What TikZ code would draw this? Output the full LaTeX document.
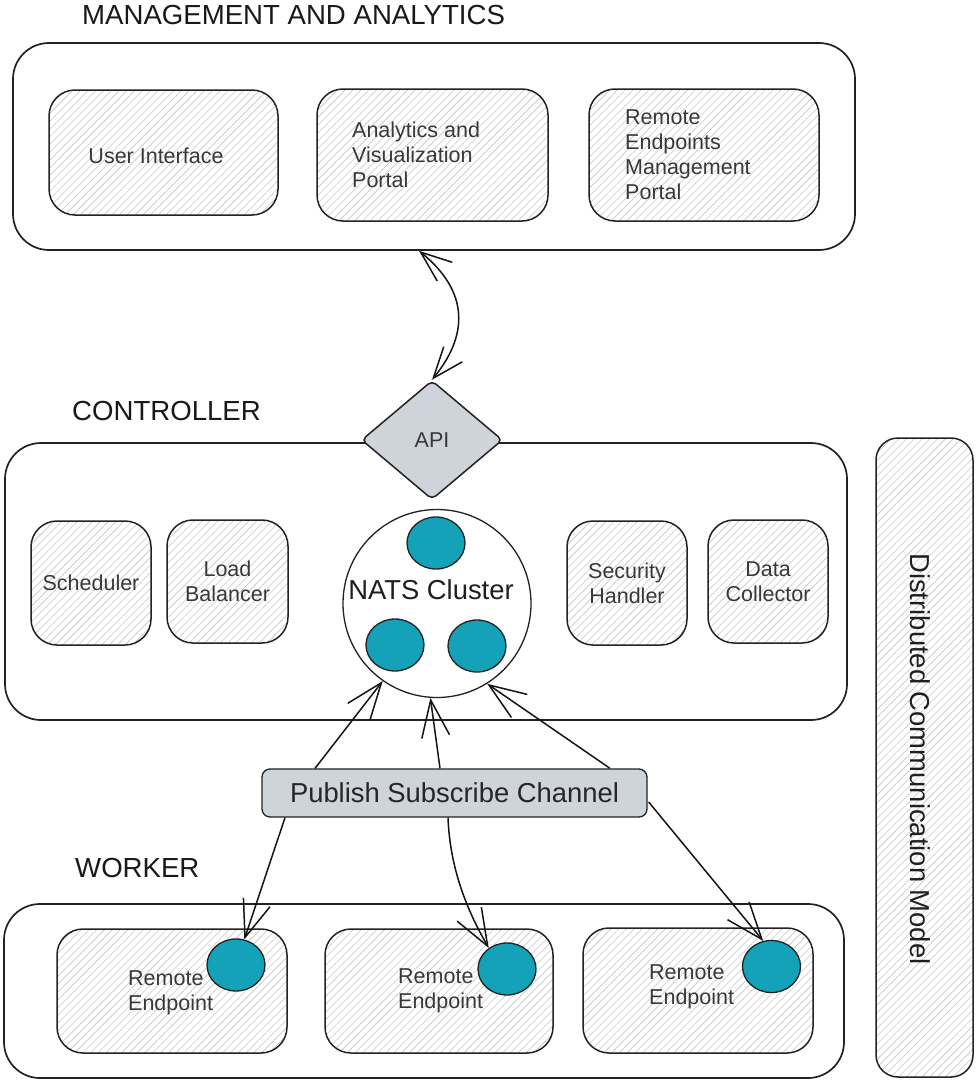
\documentclass[tikz,border=0pt]{standalone}
\usepackage{fontspec}
\setmainfont{Liberation Sans}
\usetikzlibrary{arrows.meta,shapes.geometric,patterns.meta,calc}
\definecolor{tealdot}{HTML}{14A2B8}
\definecolor{chan}{HTML}{CFD3DA}
\definecolor{edge}{HTML}{222222}
\definecolor{txt}{HTML}{383838}
\definecolor{hatch}{HTML}{C4C4C4}
\begin{document}
\begin{tikzpicture}[x=1pt,y=-1pt,
  sz/.style 2 args={minimum width=#1pt,minimum height=#2pt},
  outerbox/.style={rectangle,draw=edge,line width=1.7pt,rounded corners=36pt,inner sep=0pt},
  hatchbox/.style={rectangle,draw=edge,line width=1.5pt,rounded corners=26pt,inner sep=0pt,
     pattern={Lines[angle=45,distance=5.5pt,line width=0.6pt]},pattern color=hatch},
  hdr/.style={anchor=base west,inner sep=0pt,text=black!90,font=\fontsize{27.6}{30}\selectfont},
  lbl/.style={inner sep=0pt,text=txt,align=center,font=\fontsize{21.5}{25}\selectfont},
  lbltl/.style={anchor=north west,inner sep=0pt,text=txt,align=left,font=\fontsize{21.5}{25}\selectfont},
  bigtxt/.style={inner sep=0pt,text=black!88,font=\fontsize{27.4}{30}\selectfont},
  dot/.style={ellipse,draw=edge,line width=1.3pt,fill=tealdot,minimum width=58pt,minimum height=52pt,inner sep=0pt},
  conn/.style={draw=black!92,line width=1.5pt,-{Straight Barb[length=37pt,width=28pt]}},
  dconn/.style={draw=black!92,line width=1.5pt,{Straight Barb[length=31pt,width=24pt]}-{Straight Barb[length=31pt,width=24pt]}}
]
\useasboundingbox (0,0) rectangle (975,1081);

% ---------- Management and analytics ----------
\node[hdr] (mgmth) at (82,25) {MANAGEMENT AND ANALYTICS};
\node[outerbox,sz={842}{207}] (mgmt) at (434,146.5) {};
\node[hatchbox,sz={229}{125}] (ui) at (163.5,152.5) {};
\node[lbl] (uit) at (156,156) {User Interface};
\node[hatchbox,sz={231}{132}] (avp) at (432.5,155) {};
\node[lbltl] (avpt) at (352,122) {Analytics and\\Visualization\\Portal};
\node[hatchbox,sz={230}{132}] (rem) at (704,155) {};
\node[lbltl] (remt) at (625,110) {Remote\\Endpoints\\Management\\Portal};

% ---------- Controller ----------
\node[hdr] (ctrlh) at (72,420) {CONTROLLER};
\node[outerbox,sz={842}{277}] (ctrl) at (426,581.5) {};
\node[diamond,draw=edge,line width=1.5pt,fill=chan,rounded corners=5pt,minimum width=141pt,minimum height=119pt,inner sep=0pt,text=txt,font=\fontsize{21.5}{25}\selectfont] (api) at (432,440) {API};
\node[hatchbox,sz={120}{124},lbl] (sch) at (91,583) {Scheduler};
\node[hatchbox,sz={121}{123},lbl] (lb) at (227.5,581.5) {Load\\Balancer};
\node[hatchbox,sz={120}{124},lbl] (sec) at (627,583) {Security\\Handler};
\node[hatchbox,sz={120}{123},lbl] (dc) at (768,581.5) {Data\\Collector};
\node[circle,draw=edge,line width=1.3pt,fill=white,minimum size=188pt,inner sep=0pt] (nats) at (437,603.5) {};
\node[bigtxt] (natst) at (431,590) {NATS Cluster};
\node[dot] (n1) at (436,543) {};
\node[dot] (n2) at (395,645) {};
\node[dot] (n3) at (477,646) {};

% ---------- Channel ----------
\node[rectangle,draw=edge,line width=1.3pt,fill=chan,rounded corners=8pt,sz={385}{48},inner sep=0pt,text=black!85,font=\fontsize{27.4}{30}\selectfont] (pub) at (454.5,793) {Publish Subscribe Channel};

% ---------- Worker ----------
\node[hdr] (workh) at (75,877) {WORKER};
\node[outerbox,sz={840}{174}] (work) at (424,991) {};
\node[hatchbox,sz={230}{124}] (re1) at (172,991) {};
\node[lbltl] (re1t) at (128,970) {Remote\\Endpoint};
\node[dot] (d1) at (236,965) {};
\node[hatchbox,sz={228}{124}] (re2) at (439,991) {};
\node[lbltl] (re2t) at (398,968) {Remote\\Endpoint};
\node[dot] (d2) at (507,969) {};
\node[hatchbox,sz={230}{125}] (re3) at (698,990.5) {};
\node[lbltl] (re3t) at (649,964) {Remote\\Endpoint};
\node[dot] (d3) at (771.5,966.5) {};

% ---------- Distributed communication model ----------
\node[hatchbox,rounded corners=22pt,sz={97}{639}] (dcm) at (924.5,757.5) {};
\node[bigtxt,rotate=-90] (dcmt) at (920,759) {Distributed Communication Model};

% ---------- Connectors ----------
\draw[dconn] ($(mgmt.south)+(-15,0)$) .. controls (470,292) and (468,336) .. (api.north);
\draw[conn] ($(pub.north)+(-139.5,0)$) -- (nats.235);
\draw[conn] ($(pub.north)+(-14.5,0)$) -- (nats.266);
\draw[conn] ($(pub.north)+(155.5,0)$) -- (nats.302);
\draw[conn] ($(pub.south)+(-169.5,0)$) -- (d1.72);
\draw[conn] ($(pub.south)+(-6.5,0)$) .. controls (450,870) and (468,912) .. (d2.131);
\draw[conn] ($(pub.east)+(1,9)$) -- (d3.108);
\end{tikzpicture}
\end{document}
